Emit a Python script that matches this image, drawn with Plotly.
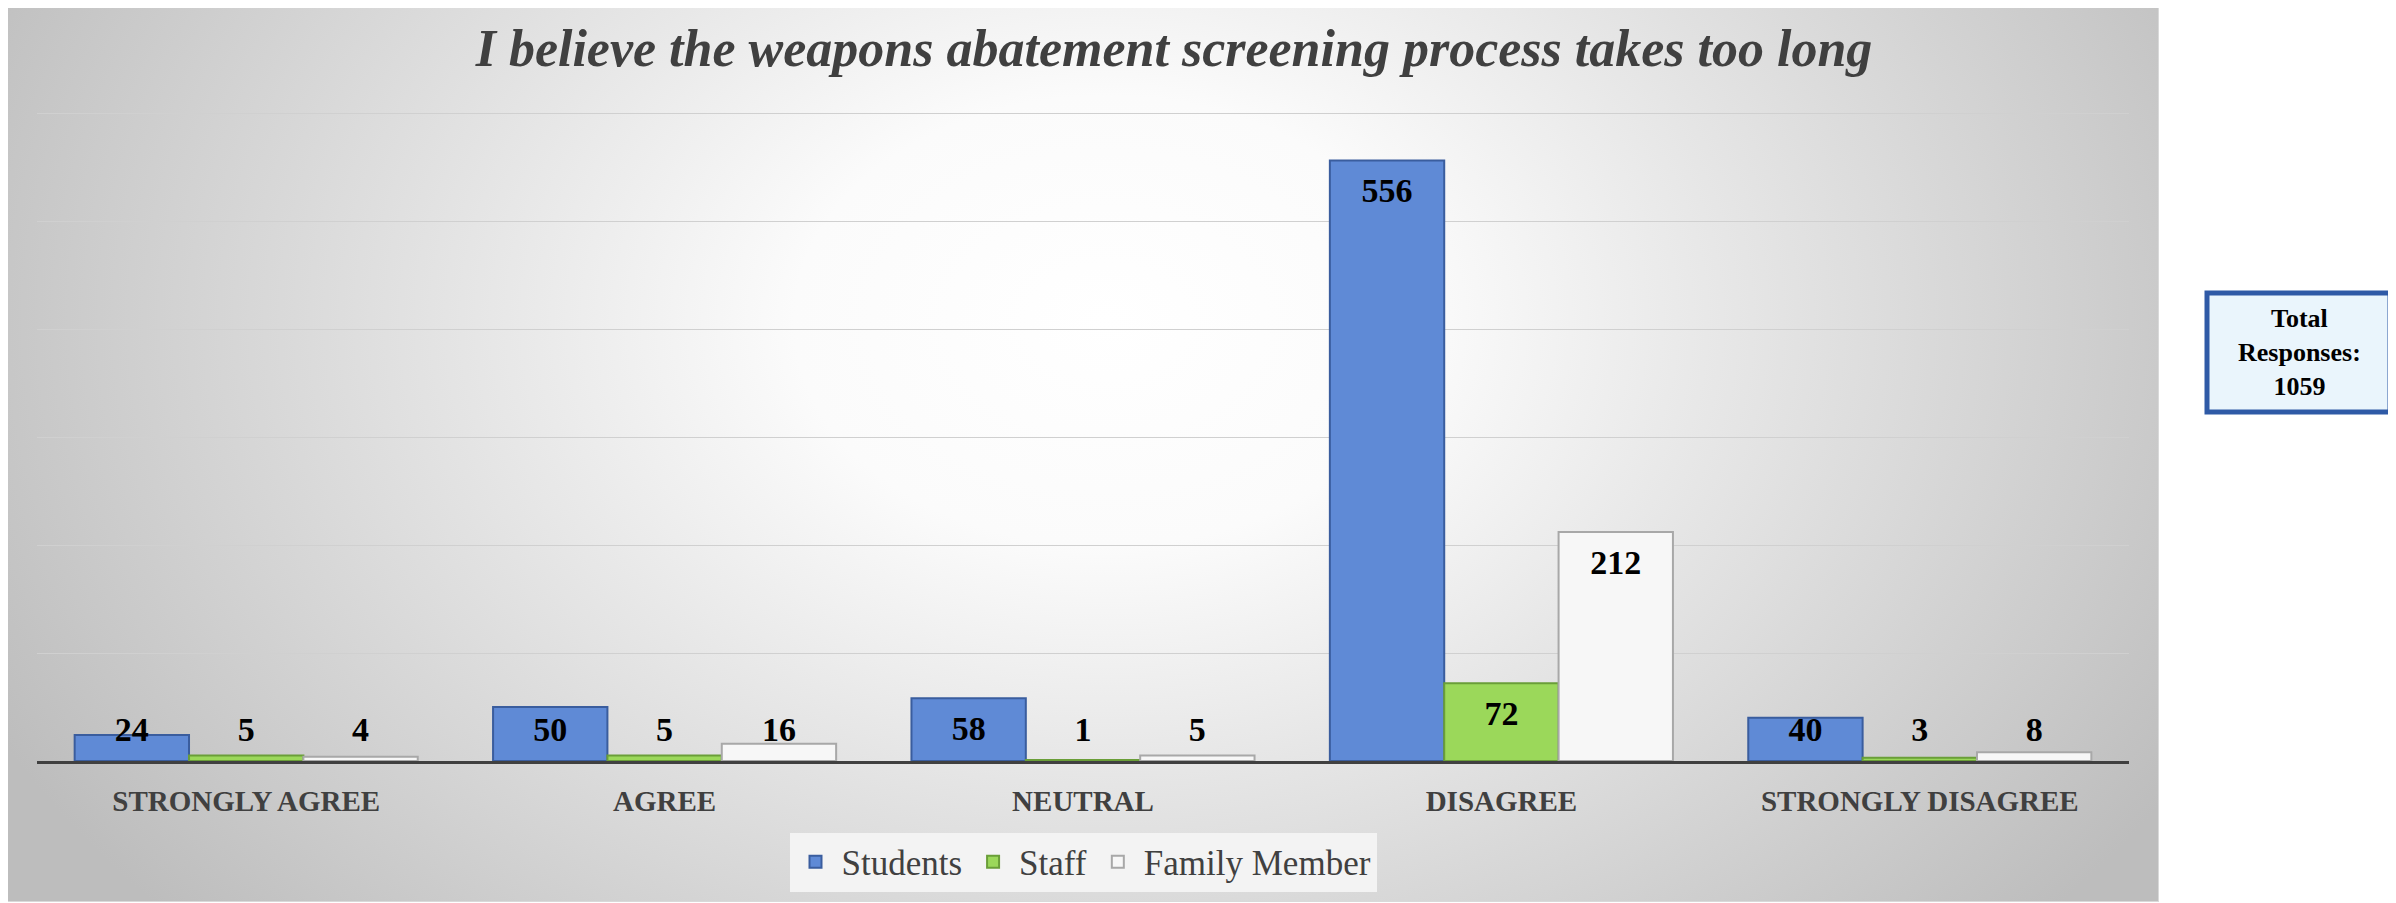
import base64
import plotly.graph_objects as go

categories = ["STRONGLY AGREE", "AGREE", "NEUTRAL", "DISAGREE", "STRONGLY DISAGREE"]
students = [24, 50, 58, 556, 40]
staff = [5, 5, 1, 72, 3]
family = [4, 16, 5, 212, 8]
series_names = ["Students", "Staff", "Family Member"]
title_text = "I believe the weapons abatement screening process takes too long"
total_text = "Total<br>Responses:<br>1059"

OFF = 8  # page body margin
W, H = 2396 - OFF, 903 - OFF
ML, MR, MT, MB = 29, 267, 104, 142
PW = W - ML - MR
PH = H - MT - MB

fills = ["#5f8ad6", "#9bd85a", "#f7f7f7"]
edges = ["#3a5d9e", "#6a9e38", "#a8a8a8"]
BARGAP = 0.18
bw = (1 - BARGAP) / 3
offsets = [-bw, 0.0, bw]

fig = go.Figure()
xs = list(range(len(categories)))
for name, vals, fc, ec in zip(series_names, [students, staff, family], fills, edges):
    fig.add_trace(go.Bar(
        x=xs, y=vals, name=name,
        marker=dict(color=fc, line=dict(color=ec, width=2)),
        hoverinfo="skip"))

for vals, off in zip([students, staff, family], offsets):
    fig.add_trace(go.Scatter(
        x=[i + off for i in xs],
        y=[max(v - 30.5, 26) for v in vals],
        text=[str(v) for v in vals],
        mode="text", showlegend=False, hoverinfo="skip",
        textposition="middle center",
        textfont=dict(family="Liberation Serif", size=34, color="#000000", weight="bold")))

# background gradient (chart area) as an SVG image
cw, ch = 2152, 901
svg = f'''<svg xmlns="http://www.w3.org/2000/svg" width="{cw}" height="{ch}" viewBox="0 0 {cw} {ch}" preserveAspectRatio="none">
<defs><radialGradient id="g" gradientUnits="userSpaceOnUse" cx="0" cy="0" r="1" gradientTransform="translate(1100 320) scale(1250 900)">
<stop offset="0" stop-color="#ffffff"/><stop offset="0.25" stop-color="#fbfbfb"/><stop offset="1" stop-color="#bdbdbd"/></radialGradient></defs>
<rect x="0.5" y="0.5" width="{cw-1}" height="{ch-1}" fill="url(#g)" stroke="#d9d9d9" stroke-width="1"/></svg>'''
src = "data:image/svg+xml;base64," + base64.b64encode(svg.encode()).decode()

px2x = lambda p: (p - OFF - ML) / PW
px2y = lambda p: (H - MB - (p - OFF)) / PH

fig.update_layout(
    width=W, height=H,
    margin=dict(l=ML, r=MR, t=MT, b=MB, autoexpand=False),
    paper_bgcolor="#ffffff", plot_bgcolor="rgba(0,0,0,0)",
    barmode="group", bargap=BARGAP, bargroupgap=0,
    title=dict(text=title_text, x=(1174 - OFF) / W, xanchor="center", xref="container",
               y=1 - (48 - OFF) / H, yanchor="middle", yref="container",
               font=dict(family="Liberation Serif", size=52, color="#404040",
                         weight="bold", style="italic")),
    xaxis=dict(range=[-0.5, 4.5], tickmode="array", tickvals=xs, ticktext=categories,
               showgrid=False, zeroline=False, showline=True, linecolor="#404040", linewidth=3,
               ticks="outside", ticklen=12, tickcolor="rgba(0,0,0,0)",
               tickfont=dict(family="Liberation Serif", size=29, color="#404040", weight="bold"),
               fixedrange=True),
    yaxis=dict(range=[0, 601], tickmode="array", tickvals=[100, 200, 300, 400, 500, 600],
               showgrid=True, gridcolor="#d0d0d0", gridwidth=1,
               showticklabels=False, zeroline=False, showline=False, fixedrange=True),
    legend=dict(orientation="h", x=0.5, xanchor="center", y=px2y(862), yanchor="middle",
                bgcolor="#f3f3f3", font=dict(family="Liberation Serif", size=35, color="#404040"),
                traceorder="normal", itemwidth=42, borderwidth=0),
    images=[dict(source=src, xref="paper", yref="paper", x=px2x(7), y=px2y(1),
                 sizex=(2159 - 7) / PW, sizey=(902 - 1) / PH, sizing="stretch",
                 xanchor="left", yanchor="top", layer="below")],
    shapes=[dict(type="rect", xref="paper", yref="paper",
                 x0=px2x(2207), x1=px2x(2390), y0=px2y(412), y1=px2y(293),
                 fillcolor="#eaf5fc", line=dict(color="#2f5aa6", width=5))],
    annotations=[dict(text="<b>" + total_text + "</b>", xref="paper", yref="paper",
                      x=px2x(2299), y=px2y(352), xanchor="center", yanchor="middle",
                      showarrow=False, align="center",
                      font=dict(family="Liberation Serif", size=26, color="#000000"))],
)

fig.write_html("out.html")
